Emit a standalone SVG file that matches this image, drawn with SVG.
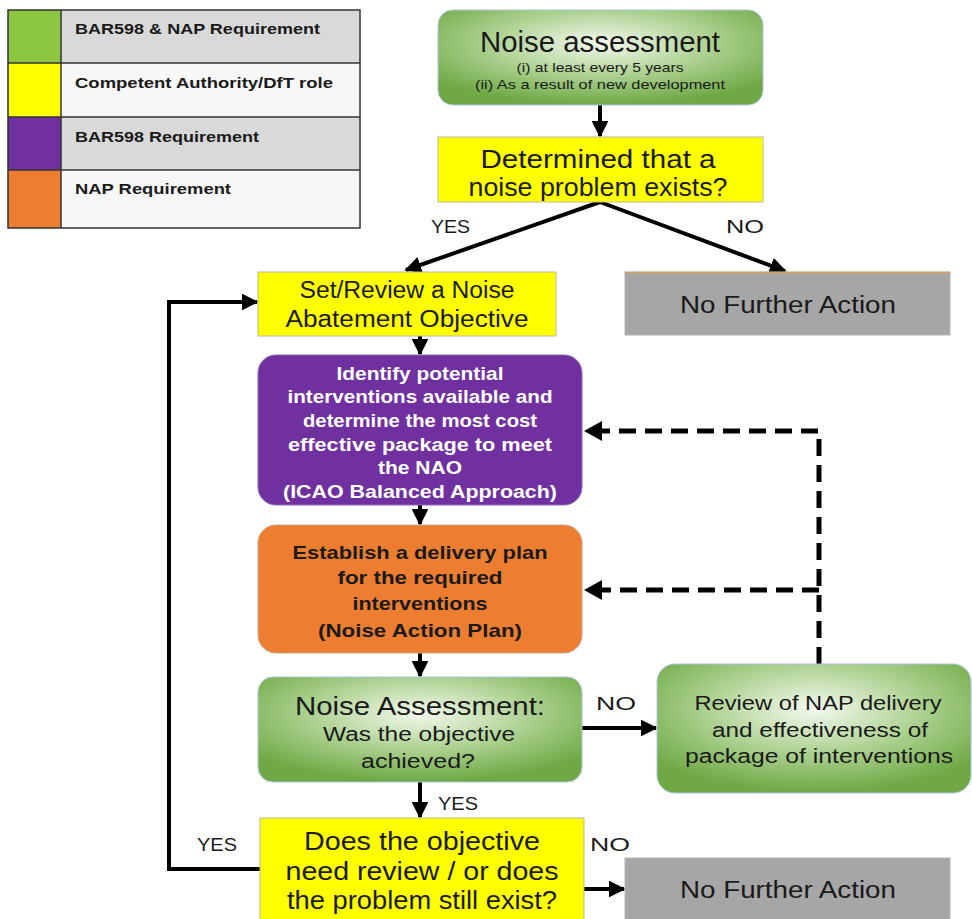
<svg xmlns="http://www.w3.org/2000/svg" width="972" height="919" viewBox="0 0 972 919">
  <defs>
    <radialGradient id="greenFill" cx="50%" cy="35%" r="65%">
      <stop offset="0" stop-color="#f4f9ef"/>
      <stop offset="0.55" stop-color="#a9cf8c"/>
      <stop offset="1" stop-color="#6fa845"/>
    </radialGradient>
    <marker id="arrow" viewBox="0 0 10 10" refX="9" refY="5" markerWidth="4.2" markerHeight="4.2" orient="auto" markerUnits="strokeWidth">
      <path d="M0,0 L10,5 L0,10 z" fill="#000"/>
    </marker>
  </defs>
  <style>
    .t { font-family: "Liberation Sans", Arial, sans-serif; fill: #1a1a1a; text-anchor: middle; }
    .b { font-weight: bold; }
    .w { fill: #ffffff; }
    .lg { font-family: "Liberation Sans", Arial, sans-serif; font-weight: bold; font-size: 15px; fill: #1a1a1a; }
    .yellow { fill: #ffff00; stroke: #b8b8a0; stroke-width: 1; }
    .grey { fill: #a6a6a6; stroke: #b0b4bb; stroke-width: 1; }
    .green { fill: url(#greenFill); stroke: #a9c4e0; stroke-width: 1; }
    .line { fill: none; stroke: #000; stroke-width: 4; }
    .dash { fill: none; stroke: #000; stroke-width: 5; stroke-dasharray: 17 9; }
    .lbl { font-family: "Liberation Sans", Arial, sans-serif; font-size: 19px; fill: #1a1a1a; }
  </style>

  <!-- key -->
  <g id="legend">
    <rect x="8" y="10" width="352" height="53" fill="#d9d9d9"/>
    <rect x="8" y="63" width="352" height="54" fill="#f7f7f7"/>
    <rect x="8" y="117" width="352" height="53" fill="#d9d9d9"/>
    <rect x="8" y="170" width="352" height="58" fill="#f7f7f7"/>
    <rect x="8" y="10" width="53" height="53" fill="#8dc642"/>
    <rect x="8" y="63" width="53" height="54" fill="#ffff00"/>
    <rect x="8" y="117" width="53" height="53" fill="#7030a0"/>
    <rect x="8" y="170" width="53" height="58" fill="#ed7d31"/>
    <g fill="none" stroke="#333" stroke-width="1.5">
      <rect x="8" y="10" width="352" height="218"/>
      <line x1="61" y1="10" x2="61" y2="228"/>
      <line x1="8" y1="63" x2="360" y2="63"/>
      <line x1="8" y1="117" x2="360" y2="117"/>
      <line x1="8" y1="170" x2="360" y2="170"/>
    </g>
    <text class="lg" x="75" y="34" textLength="245" lengthAdjust="spacingAndGlyphs">BAR598 &amp; NAP Requirement</text>
    <text class="lg" x="75" y="88" textLength="258" lengthAdjust="spacingAndGlyphs">Competent Authority/DfT role</text>
    <text class="lg" x="75" y="142" textLength="184" lengthAdjust="spacingAndGlyphs">BAR598 Requirement</text>
    <text class="lg" x="75" y="194" textLength="156" lengthAdjust="spacingAndGlyphs">NAP Requirement</text>
  </g>

  <!-- connectors -->
  <g id="connectors">
    <line class="line" x1="600" y1="105" x2="600" y2="136" marker-end="url(#arrow)"/>
    <line class="line" x1="600" y1="202" x2="406" y2="270" marker-end="url(#arrow)"/>
    <line class="line" x1="600" y1="202" x2="785" y2="271" marker-end="url(#arrow)"/>
    <line class="line" x1="420" y1="336" x2="420" y2="354" marker-end="url(#arrow)"/>
    <line class="line" x1="420" y1="505" x2="420" y2="524" marker-end="url(#arrow)"/>
    <line class="line" x1="420" y1="653" x2="420" y2="676" marker-end="url(#arrow)"/>
    <line class="line" x1="420" y1="782" x2="420" y2="817" marker-end="url(#arrow)"/>
    <line class="line" x1="582" y1="728" x2="656" y2="728" marker-end="url(#arrow)"/>
    <line class="line" x1="584" y1="889" x2="624" y2="889" marker-end="url(#arrow)"/>
    <polyline class="line" points="260,869 169,869 169,302 257,302" marker-end="url(#arrow)"/>
    <polyline class="dash" points="819,664 819,431 600,431"/>
    <polyline class="dash" points="819,590 600,590"/>
    <path d="M584,431 L602,421 L602,441 z" fill="#000"/>
    <path d="M584,590 L602,580 L602,600 z" fill="#000"/>
    <text class="lbl" x="431" y="233" textLength="39" lengthAdjust="spacingAndGlyphs">YES</text>
    <text class="lbl" x="726" y="233" textLength="38" lengthAdjust="spacingAndGlyphs">NO</text>
    <text class="lbl" x="596" y="710" textLength="40" lengthAdjust="spacingAndGlyphs">NO</text>
    <text class="lbl" x="438" y="810" textLength="40" lengthAdjust="spacingAndGlyphs">YES</text>
    <text class="lbl" x="197" y="851" textLength="40" lengthAdjust="spacingAndGlyphs">YES</text>
    <text class="lbl" x="590" y="851" textLength="40" lengthAdjust="spacingAndGlyphs">NO</text>
  </g>

  <g id="noise-assessment">
    <rect class="green" x="438" y="10" width="325" height="95" rx="15"/>
    <text class="t" x="600" y="52" font-size="29" textLength="240" lengthAdjust="spacingAndGlyphs">Noise assessment</text>
    <text class="t" x="600" y="72" font-size="13" fill="#404040" textLength="167" lengthAdjust="spacingAndGlyphs">(i) at least every 5 years</text>
    <text class="t" x="600" y="89" font-size="13" fill="#404040" textLength="250" lengthAdjust="spacingAndGlyphs">(ii) As a result of new development</text>
  </g>

  <g id="problem-exists">
    <rect class="yellow" x="438" y="137" width="325" height="65"/>
    <text class="t" x="598" y="168" font-size="25" textLength="235" lengthAdjust="spacingAndGlyphs">Determined that a</text>
    <text class="t" x="598" y="196" font-size="25" textLength="259" lengthAdjust="spacingAndGlyphs">noise problem exists?</text>
  </g>

  <g id="set-objective">
    <rect class="yellow" x="258" y="272" width="298" height="64"/>
    <text class="t" x="407" y="298" font-size="23" textLength="215" lengthAdjust="spacingAndGlyphs">Set/Review a Noise</text>
    <text class="t" x="407" y="327" font-size="23" textLength="243" lengthAdjust="spacingAndGlyphs">Abatement Objective</text>
  </g>

  <g id="no-action-top">
    <rect class="grey" x="625" y="272" width="325" height="63"/>
    <line x1="625" y1="272.5" x2="950" y2="272.5" stroke="#d9a460" stroke-width="1.5"/>
    <text class="t" x="788" y="313" font-size="23" textLength="216" lengthAdjust="spacingAndGlyphs">No Further Action</text>
  </g>

  <g id="interventions">
    <rect x="258" y="355" width="324" height="150" rx="18" fill="#7030a0" stroke="#8a6ab8" stroke-width="1"/>
    <g class="t b w" font-size="18">
      <text class="w" x="420" y="380" textLength="167" lengthAdjust="spacingAndGlyphs">Identify potential</text>
      <text class="w" x="420" y="403" textLength="265" lengthAdjust="spacingAndGlyphs">interventions available and</text>
      <text class="w" x="420" y="427" textLength="234" lengthAdjust="spacingAndGlyphs">determine the most cost</text>
      <text class="w" x="420" y="451" textLength="264" lengthAdjust="spacingAndGlyphs">effective package to meet</text>
      <text class="w" x="420" y="474" textLength="84" lengthAdjust="spacingAndGlyphs">the NAO</text>
      <text class="w" x="420" y="498" textLength="274" lengthAdjust="spacingAndGlyphs">(ICAO Balanced Approach)</text>
    </g>
  </g>

  <g id="delivery-plan">
    <rect x="258" y="525" width="324" height="128" rx="18" fill="#ed7d31" stroke="#c8a58a" stroke-width="1"/>
    <g class="t b" font-size="19">
      <text x="420" y="559" textLength="255" lengthAdjust="spacingAndGlyphs">Establish a delivery plan</text>
      <text x="420" y="584" textLength="165" lengthAdjust="spacingAndGlyphs">for the required</text>
      <text x="420" y="610" textLength="135" lengthAdjust="spacingAndGlyphs">interventions</text>
      <text x="420" y="637" textLength="204" lengthAdjust="spacingAndGlyphs">(Noise Action Plan)</text>
    </g>
  </g>

  <g id="objective-achieved">
    <rect class="green" x="258" y="677" width="324" height="105" rx="15"/>
    <text class="t" x="420" y="715" font-size="26" textLength="250" lengthAdjust="spacingAndGlyphs">Noise Assessment:</text>
    <text class="t" x="419" y="741" font-size="20" textLength="192" lengthAdjust="spacingAndGlyphs">Was the objective</text>
    <text class="t" x="418" y="768" font-size="20" textLength="114" lengthAdjust="spacingAndGlyphs">achieved?</text>
  </g>

  <g id="review-delivery">
    <rect class="green" x="657" y="664" width="314" height="129" rx="18"/>
    <text class="t" x="818" y="710" font-size="20" textLength="247" lengthAdjust="spacingAndGlyphs">Review of NAP delivery</text>
    <text class="t" x="820" y="737" font-size="20" textLength="216" lengthAdjust="spacingAndGlyphs">and effectiveness of</text>
    <text class="t" x="819" y="763" font-size="20" textLength="268" lengthAdjust="spacingAndGlyphs">package of interventions</text>
  </g>

  <g id="objective-review">
    <rect class="yellow" x="260" y="818" width="324" height="104"/>
    <text class="t" x="422" y="850" font-size="25" textLength="236" lengthAdjust="spacingAndGlyphs">Does the objective</text>
    <text class="t" x="422" y="880" font-size="25" textLength="273" lengthAdjust="spacingAndGlyphs">need review / or does</text>
    <text class="t" x="422" y="909" font-size="25" textLength="270" lengthAdjust="spacingAndGlyphs">the problem still exist?</text>
  </g>

  <g id="no-action-bottom">
    <rect class="grey" x="625" y="858" width="325" height="64"/>
    <text class="t" x="788" y="898" font-size="23" textLength="216" lengthAdjust="spacingAndGlyphs">No Further Action</text>
  </g>
</svg>
